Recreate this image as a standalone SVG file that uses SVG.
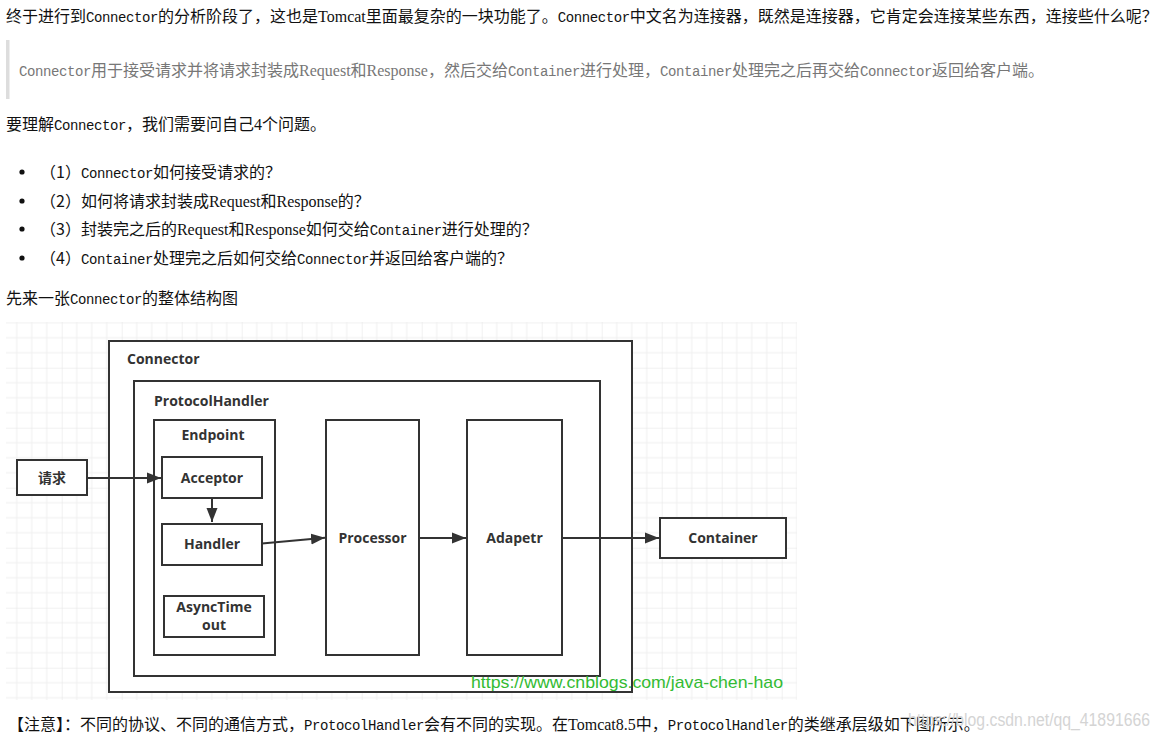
<svg xmlns="http://www.w3.org/2000/svg" width="1159" height="738" viewBox="0 0 1159 738">
<style>
.t { font-family: "Noto Sans CJK SC", sans-serif; font-size: 16px; fill: #111; }
.q { fill: #777; }
.m { font-family: "Liberation Mono", "Noto Sans CJK SC", monospace; font-size: 14px; letter-spacing: -0.4px; }
.s { font-family: "Liberation Serif", "Noto Sans CJK SC", serif; font-size: 16px; }
.box { fill: #fff; stroke: #333; stroke-width: 2; }
.lbl { font-family: "Open Sans", "Noto Sans CJK SC", sans-serif; font-weight: bold; font-size: 14px; fill: #333; }
.c { text-anchor: middle; }
.edge { stroke: #333; stroke-width: 2; fill: none; marker-end: url(#arr); }
</style>
<defs>
<pattern id="grid" patternUnits="userSpaceOnUse" x="1.7" y="7.7" width="60" height="60">
<path d="M15,0V60M30,0V60M45,0V60M0,15H60M0,30H60M0,45H60" stroke="#efefef" stroke-width="1" fill="none"/>
<path d="M0,0V60M0,0H60" stroke="#e3e3e3" stroke-width="1" fill="none"/>
</pattern>
<marker id="arr" markerUnits="userSpaceOnUse" markerWidth="16" markerHeight="12" refX="14" refY="6" orient="auto">
<path d="M0,0.5 L14,6 L0,11.5 z" fill="#333"/>
</marker>
</defs>
<rect width="1159" height="738" fill="#fff"/>

<g id="article-text">
<text class="t" x="6" y="22">终于进行到<tspan class="m">Connector</tspan>的分析阶段了，这也是<tspan class="s">Tomcat</tspan>里面最复杂的一块功能了。<tspan class="m">Connector</tspan>中文名为连接器，既然是连接器，它肯定会连接某些东西，连接些什么呢？</text>
<rect x="6" y="40" width="3.5" height="59" fill="#ddd"/>
<text class="t q" x="19" y="76"><tspan class="m">Connector</tspan>用于接受请求并将请求封装成<tspan class="s">Request</tspan>和<tspan class="s">Response</tspan>，然后交给<tspan class="m">Container</tspan>进行处理，<tspan class="m">Container</tspan>处理完之后再交给<tspan class="m">Connector</tspan>返回给客户端。</text>
<text class="t" x="6" y="130">要理解<tspan class="m">Connector</tspan>，我们需要问自己<tspan class="s">4</tspan>个问题。</text>
<circle cx="22" cy="172" r="2.6" fill="#111"/>
<circle cx="22" cy="201" r="2.6" fill="#111"/>
<circle cx="22" cy="229" r="2.6" fill="#111"/>
<circle cx="22" cy="258" r="2.6" fill="#111"/>
<text class="t" x="40" y="178">（1）<tspan class="m">Connector</tspan>如何接受请求的？</text>
<text class="t" x="40" y="207">（2）如何将请求封装成<tspan class="s">Request</tspan>和<tspan class="s">Response</tspan>的？</text>
<text class="t" x="40" y="235">（3）封装完之后的<tspan class="s">Request</tspan>和<tspan class="s">Response</tspan>如何交给<tspan class="m">Container</tspan>进行处理的？</text>
<text class="t" x="40" y="264">（4）<tspan class="m">Container</tspan>处理完之后如何交给<tspan class="m">Connector</tspan>并返回给客户端的？</text>
<text class="t" x="6" y="304">先来一张<tspan class="m">Connector</tspan>的整体结构图</text>
<text class="t" x="8" y="730">【注意】：不同的协议、不同的通信方式，<tspan class="m">ProtocolHandler</tspan>会有不同的实现。在<tspan class="s">Tomcat8.5</tspan>中，<tspan class="m">ProtocolHandler</tspan>的类继承层级如下图所示。</text>
</g>

<rect id="grid-bg" x="6" y="322" width="791" height="378" fill="url(#grid)"/>

<g id="connector"><rect class="box" x="109" y="341" width="523" height="351"/><text class="lbl" x="127" y="364">Connector</text></g>
<g id="protocolhandler"><rect class="box" x="134" y="381" width="466" height="295"/><text class="lbl" x="154" y="406">ProtocolHandler</text></g>
<g id="endpoint"><rect class="box" x="154" y="420" width="121" height="235"/><text class="lbl c" x="213" y="440">Endpoint</text></g>
<g id="acceptor"><rect class="box" x="162" y="457" width="100" height="41"/><text class="lbl c" x="212" y="483">Acceptor</text></g>
<g id="handler"><rect class="box" x="162" y="524" width="100" height="41"/><text class="lbl c" x="212" y="549">Handler</text></g>
<g id="asynctimeout"><rect class="box" x="164" y="596" width="100" height="41"/><text class="lbl c" x="214" y="612">AsyncTime</text><text class="lbl c" x="214" y="630">out</text></g>
<g id="processor"><rect class="box" x="326" y="420" width="93" height="235"/><text class="lbl c" x="372.5" y="543">Processor</text></g>
<g id="adapetr"><rect class="box" x="467" y="420" width="95" height="235"/><text class="lbl c" x="514.5" y="543">Adapetr</text></g>
<g id="request"><rect class="box" x="17" y="460" width="70" height="35"/><text class="lbl c" x="52" y="483">请求</text></g>
<g id="container"><rect class="box" x="660" y="518" width="126" height="40"/><text class="lbl c" x="723" y="543">Container</text></g>

<g id="connectors">
<path class="edge" d="M87,478 H161"/>
<path class="edge" d="M212,498 V522"/>
<path class="edge" d="M262,543.5 L325,537.7"/>
<path class="edge" d="M419,538 H466"/>
<path class="edge" d="M562,538 H659"/>
</g>

<g id="watermarks">
<text x="471" y="688" font-family="Liberation Sans, sans-serif" font-size="17" fill="#33bb33" textLength="312" lengthAdjust="spacingAndGlyphs">https://www.cnblogs.com/java-chen-hao</text>
<text x="908" y="726" font-family="Liberation Sans, sans-serif" font-size="18" fill="#d4d4d4" textLength="242" lengthAdjust="spacingAndGlyphs">https://blog.csdn.net/qq_41891666</text>
</g>
</svg>
